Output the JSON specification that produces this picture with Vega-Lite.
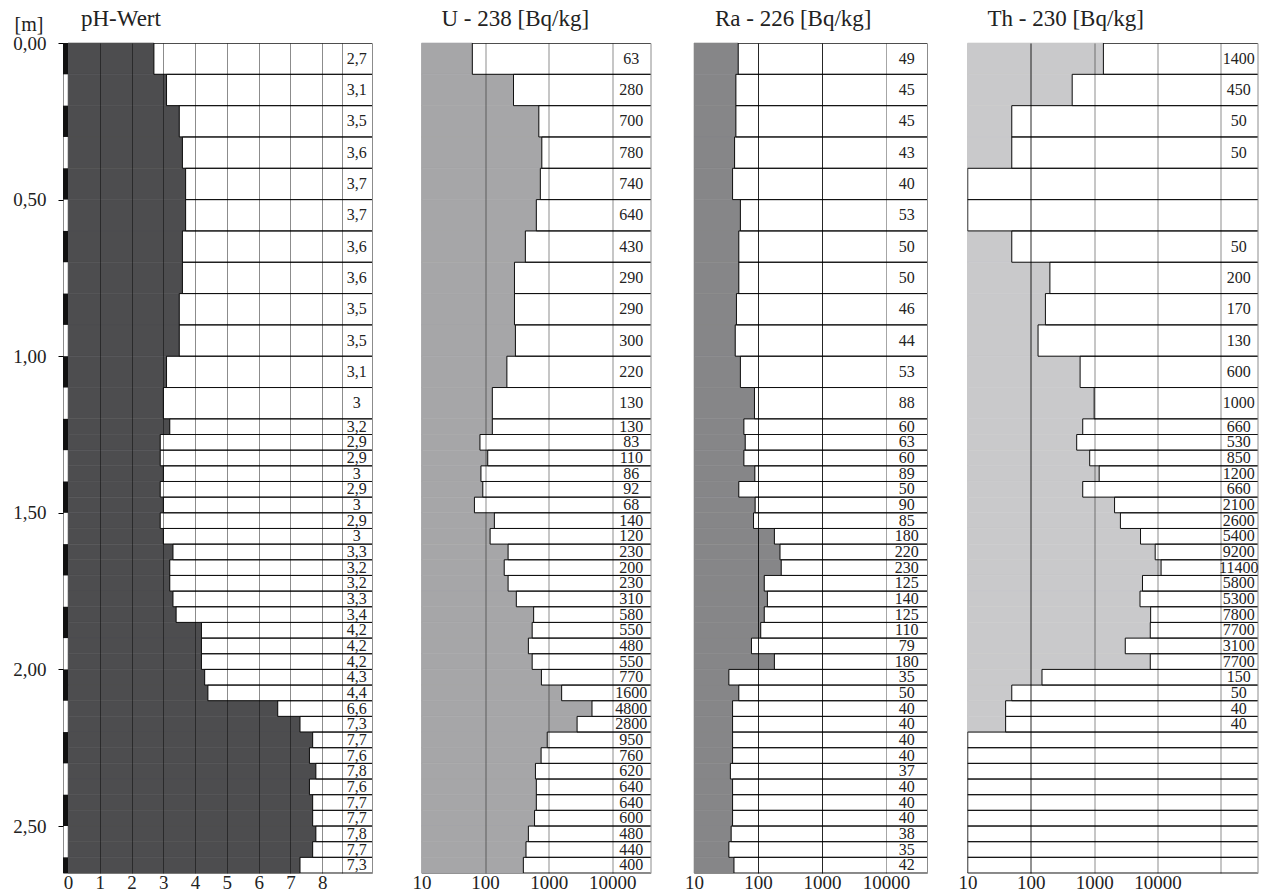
{
  "$schema": "https://vega.github.io/schema/vega-lite/v6.json",
  "background": "white",
  "padding": {"left": 12, "top": 7, "right": 0, "bottom": 0},
  "config": {
    "locale": {"number": {"decimal": ",", "thousands": ".", "grouping": [3], "currency": ["", " €"]}},
    "view": {"stroke": "#8c8c8c", "strokeWidth": 1},
    "font": "Liberation Serif",
    "title": {"font": "Liberation Serif", "fontSize": 23, "fontWeight": "normal", "color": "#222222", "anchor": "start", "frame": "group", "baseline": "alphabetic", "offset": 12},
    "axis": {"labelFont": "Liberation Serif", "labelFontSize": 19, "labelColor": "#222222", "titleFont": "Liberation Serif"}
  },
  "datasets": {
    "rows": [
      {"d0": 0.0, "d1": 0.1, "ph": 2.7, "u": 63, "ra": 49, "th": 1400},
      {"d0": 0.1, "d1": 0.2, "ph": 3.1, "u": 280, "ra": 45, "th": 450},
      {"d0": 0.2, "d1": 0.3, "ph": 3.5, "u": 700, "ra": 45, "th": 50},
      {"d0": 0.3, "d1": 0.4, "ph": 3.6, "u": 780, "ra": 43, "th": 50},
      {"d0": 0.4, "d1": 0.5, "ph": 3.7, "u": 740, "ra": 40, "th": null},
      {"d0": 0.5, "d1": 0.6, "ph": 3.7, "u": 640, "ra": 53, "th": null},
      {"d0": 0.6, "d1": 0.7, "ph": 3.6, "u": 430, "ra": 50, "th": 50},
      {"d0": 0.7, "d1": 0.8, "ph": 3.6, "u": 290, "ra": 50, "th": 200},
      {"d0": 0.8, "d1": 0.9, "ph": 3.5, "u": 290, "ra": 46, "th": 170},
      {"d0": 0.9, "d1": 1.0, "ph": 3.5, "u": 300, "ra": 44, "th": 130},
      {"d0": 1.0, "d1": 1.1, "ph": 3.1, "u": 220, "ra": 53, "th": 600},
      {"d0": 1.1, "d1": 1.2, "ph": 3.0, "u": 130, "ra": 88, "th": 1000},
      {"d0": 1.2, "d1": 1.25, "ph": 3.2, "u": 130, "ra": 60, "th": 660},
      {"d0": 1.25, "d1": 1.3, "ph": 2.9, "u": 83, "ra": 63, "th": 530},
      {"d0": 1.3, "d1": 1.35, "ph": 2.9, "u": 110, "ra": 60, "th": 850},
      {"d0": 1.35, "d1": 1.4, "ph": 3.0, "u": 86, "ra": 89, "th": 1200},
      {"d0": 1.4, "d1": 1.45, "ph": 2.9, "u": 92, "ra": 50, "th": 660},
      {"d0": 1.45, "d1": 1.5, "ph": 3.0, "u": 68, "ra": 90, "th": 2100},
      {"d0": 1.5, "d1": 1.55, "ph": 2.9, "u": 140, "ra": 85, "th": 2600},
      {"d0": 1.55, "d1": 1.6, "ph": 3.0, "u": 120, "ra": 180, "th": 5400},
      {"d0": 1.6, "d1": 1.65, "ph": 3.3, "u": 230, "ra": 220, "th": 9200},
      {"d0": 1.65, "d1": 1.7, "ph": 3.2, "u": 200, "ra": 230, "th": 11400},
      {"d0": 1.7, "d1": 1.75, "ph": 3.2, "u": 230, "ra": 125, "th": 5800},
      {"d0": 1.75, "d1": 1.8, "ph": 3.3, "u": 310, "ra": 140, "th": 5300},
      {"d0": 1.8, "d1": 1.85, "ph": 3.4, "u": 580, "ra": 125, "th": 7800},
      {"d0": 1.85, "d1": 1.9, "ph": 4.2, "u": 550, "ra": 110, "th": 7700},
      {"d0": 1.9, "d1": 1.95, "ph": 4.2, "u": 480, "ra": 79, "th": 3100},
      {"d0": 1.95, "d1": 2.0, "ph": 4.2, "u": 550, "ra": 180, "th": 7700},
      {"d0": 2.0, "d1": 2.05, "ph": 4.3, "u": 770, "ra": 35, "th": 150},
      {"d0": 2.05, "d1": 2.1, "ph": 4.4, "u": 1600, "ra": 50, "th": 50},
      {"d0": 2.1, "d1": 2.15, "ph": 6.6, "u": 4800, "ra": 40, "th": 40},
      {"d0": 2.15, "d1": 2.2, "ph": 7.3, "u": 2800, "ra": 40, "th": 40},
      {"d0": 2.2, "d1": 2.25, "ph": 7.7, "u": 950, "ra": 40, "th": null},
      {"d0": 2.25, "d1": 2.3, "ph": 7.6, "u": 760, "ra": 40, "th": null},
      {"d0": 2.3, "d1": 2.35, "ph": 7.8, "u": 620, "ra": 37, "th": null},
      {"d0": 2.35, "d1": 2.4, "ph": 7.6, "u": 640, "ra": 40, "th": null},
      {"d0": 2.4, "d1": 2.45, "ph": 7.7, "u": 640, "ra": 40, "th": null},
      {"d0": 2.45, "d1": 2.5, "ph": 7.7, "u": 600, "ra": 40, "th": null},
      {"d0": 2.5, "d1": 2.55, "ph": 7.8, "u": 480, "ra": 38, "th": null},
      {"d0": 2.55, "d1": 2.6, "ph": 7.7, "u": 440, "ra": 35, "th": null},
      {"d0": 2.6, "d1": 2.65, "ph": 7.3, "u": 400, "ra": 42, "th": null}
    ],
    "strip": [
      {"d0": 0.0, "d1": 0.1}, {"d0": 0.2, "d1": 0.3}, {"d0": 0.4, "d1": 0.5},
      {"d0": 0.6, "d1": 0.7}, {"d0": 0.8, "d1": 0.9}, {"d0": 1.0, "d1": 1.1},
      {"d0": 1.2, "d1": 1.3}, {"d0": 1.4, "d1": 1.5}, {"d0": 1.6, "d1": 1.7},
      {"d0": 1.8, "d1": 1.9}, {"d0": 2.0, "d1": 2.1}, {"d0": 2.2, "d1": 2.3},
      {"d0": 2.4, "d1": 2.5}, {"d0": 2.6, "d1": 2.65}
    ]
  },
  "hconcat": [
    {
      "hconcat": [
        {
          "hconcat": [
            {
              "width": 309, "height": 830,
              "title": {"text": "pH-Wert", "dx": 18, "offset": -17},
              "encoding": {
                "x": {"type": "quantitative", "title": null,
                  "scale": {"domain": [-0.16, 9.57], "nice": false, "zero": false},
                  "axis": {"values": [0, 1, 2, 3, 4, 5, 6, 7, 8, 8.62], "labelExpr": "datum.value > 8.5 ? '' : datum.label",
                    "grid": true, "zindex": 1, "domain": false, "ticks": false, "labelPadding": 0, "labelFlush": false, "labelOverlap": false,
                    "gridColor": "#000000", "gridOpacity": {"condition": {"test": "datum.value == 0", "value": 0}, "value": 0.45}}},
                "y": {"type": "quantitative", "title": "[m]",
                  "scale": {"domain": [0, 2.65], "reverse": true, "nice": false, "zero": false},
                  "axis": {"values": [0, 0.5, 1, 1.5, 2, 2.5], "format": ".2f", "grid": false, "domain": false,
                    "ticks": true, "tickSize": 5, "tickColor": "#000000", "labelPadding": 12,
                    "titleAngle": 0, "titleAlign": "left", "titleBaseline": "alphabetic", "titleX": -49, "titleY": -13,
                    "titleFontSize": 20, "titleFontWeight": "normal", "titleColor": "#222222"}}
              },
              "layer": [
                {
                  "data": {"name": "rows"},
                  "mark": {"type": "rect", "color": "#4d4d4f", "stroke": "#4d4d4f", "strokeWidth": 0.6},
                  "encoding": {
                    "x": {"field": "ph"},
                    "x2": {"datum": 0},
                    "y": {"field": "d0"},
                    "y2": {"field": "d1"}
                  }
                },
                {
                  "data": {"name": "strip"},
                  "mark": {"type": "rect", "color": "#111111"},
                  "encoding": {
                    "x": {"datum": -0.16},
                    "x2": {"datum": 0},
                    "y": {"field": "d0"},
                    "y2": {"field": "d1"}
                  }
                },
                {
                  "data": {"name": "rows"},
                  "mark": {"type": "rect", "filled": false, "color": "#111111", "strokeWidth": 1, "clip": true},
                  "encoding": {
                    "x": {"field": "ph"},
                    "x2": {"datum": 10},
                    "y": {"field": "d0"},
                    "y2": {"field": "d1"}
                  }
                },
                {
                  "data": {"name": "rows"},
                  "transform": [{"calculate": "(datum.d0 + datum.d1) / 2", "as": "mid"}],
                  "mark": {"type": "text", "font": "Liberation Serif", "fontSize": 16, "color": "#222222", "align": "center", "baseline": "middle"},
                  "encoding": {
                    "x": {"datum": 9.09},
                    "y": {"field": "mid"},
                    "text": {"field": "ph", "type": "quantitative", "format": ".1~f"}
                  }
                }
              ]
            },
            {
              "width": 229, "height": 830,
              "title": {"text": "U - 238 [Bq/kg]", "dx": 20},
              "data": {"name": "rows"},
              "encoding": {
                "x": {"type": "quantitative", "title": null,
                  "scale": {"type": "log", "domain": [10, 40000], "nice": false},
                  "axis": {"values": [10, 100, 1000, 10000], "format": "d", "grid": true, "zindex": 1, "domain": false, "ticks": false,
                    "labelPadding": 0, "labelFlush": false, "labelOverlap": false,
                    "gridColor": "#000000", "gridOpacity": {"condition": {"test": "datum.value == 10", "value": 0}, "value": 0.45}}},
                "y": {"type": "quantitative", "scale": {"domain": [0, 2.65], "reverse": true, "nice": false, "zero": false}, "axis": null}
              },
              "layer": [
                {
                  "mark": {"type": "rect", "color": "#a6a6a8", "stroke": "#a6a6a8", "strokeWidth": 0.6},
                  "encoding": {"x": {"field": "u"}, "x2": {"datum": 10}, "y": {"field": "d0"}, "y2": {"field": "d1"}}
                },
                {
                  "mark": {"type": "rect", "filled": false, "color": "#111111", "strokeWidth": 1, "clip": true},
                  "encoding": {"x": {"field": "u"}, "x2": {"datum": 80000}, "y": {"field": "d0"}, "y2": {"field": "d1"}}
                },
                {
                  "transform": [{"calculate": "(datum.d0 + datum.d1) / 2", "as": "mid"}],
                  "mark": {"type": "text", "font": "Liberation Serif", "fontSize": 16, "color": "#222222", "align": "center", "baseline": "middle"},
                  "encoding": {"x": {"datum": 20000}, "y": {"field": "mid"}, "text": {"field": "u", "type": "quantitative", "format": "d"}}
                }
              ]
            }
          ],
          "spacing": 38.5,
          "resolve": {"scale": {"x": "independent", "y": "independent"}}
        },
        {
          "width": 233, "height": 830,
          "title": {"text": "Ra - 226 [Bq/kg]", "dx": 21},
          "data": {"name": "rows"},
          "encoding": {
            "x": {"type": "quantitative", "title": null,
              "scale": {"type": "log", "domain": [10, 43500], "nice": false},
              "axis": {"values": [10, 100, 1000, 10000], "format": "d", "grid": true, "zindex": 1, "domain": false, "ticks": false,
                "labelPadding": 0, "labelFlush": false, "labelOverlap": false,
                "gridColor": "#000000", "gridOpacity": {"condition": [{"test": "datum.value == 10", "value": 0}, {"test": "datum.value == 10000", "value": 0.35}], "value": 0.85}}},
            "y": {"type": "quantitative", "scale": {"domain": [0, 2.65], "reverse": true, "nice": false, "zero": false}, "axis": null}
          },
          "layer": [
            {
              "mark": {"type": "rect", "color": "#868688", "stroke": "#868688", "strokeWidth": 0.6},
              "encoding": {"x": {"field": "ra"}, "x2": {"datum": 10}, "y": {"field": "d0"}, "y2": {"field": "d1"}}
            },
            {
              "mark": {"type": "rect", "filled": false, "color": "#111111", "strokeWidth": 1, "clip": true},
              "encoding": {"x": {"field": "ra"}, "x2": {"datum": 90000}, "y": {"field": "d0"}, "y2": {"field": "d1"}}
            },
            {
              "transform": [{"calculate": "(datum.d0 + datum.d1) / 2", "as": "mid"}],
              "mark": {"type": "text", "font": "Liberation Serif", "fontSize": 16, "color": "#222222", "align": "center", "baseline": "middle"},
              "encoding": {"x": {"datum": 21000}, "y": {"field": "mid"}, "text": {"field": "ra", "type": "quantitative", "format": "d"}}
            }
          ]
        }
      ],
      "spacing": 33,
      "resolve": {"scale": {"x": "independent", "y": "independent"}}
    },
    {
      "width": 290, "height": 830,
      "title": {"text": "Th - 230 [Bq/kg]", "dx": 20},
      "data": {"name": "rows"},
      "encoding": {
        "x": {"type": "quantitative", "title": null,
          "scale": {"type": "log", "domain": [10, 380000], "nice": false},
          "axis": {"values": [10, 100, 1000, 10000, 100000], "format": "d", "labelExpr": "datum.value > 50000 ? '' : datum.label",
            "grid": true, "zindex": 1, "domain": false, "ticks": false,
            "labelPadding": 0, "labelFlush": false, "labelOverlap": false,
            "gridColor": "#000000", "gridOpacity": {"condition": [{"test": "datum.value == 10", "value": 0}, {"test": "datum.value == 100", "value": 0.85}], "value": 0.45}}},
        "y": {"type": "quantitative", "scale": {"domain": [0, 2.65], "reverse": true, "nice": false, "zero": false}, "axis": null}
      },
      "layer": [
        {
          "transform": [{"filter": "datum.th != null"}],
          "mark": {"type": "rect", "color": "#c9c9cb", "stroke": "#c9c9cb", "strokeWidth": 0.6},
          "encoding": {"x": {"field": "th"}, "x2": {"datum": 10}, "y": {"field": "d0"}, "y2": {"field": "d1"}}
        },
        {
          "transform": [{"filter": "datum.th != null"}],
          "mark": {"type": "rect", "filled": false, "color": "#111111", "strokeWidth": 1, "clip": true},
          "encoding": {"x": {"field": "th"}, "x2": {"datum": 800000}, "y": {"field": "d0"}, "y2": {"field": "d1"}}
        },
        {
          "transform": [{"filter": "datum.th == null"}],
          "mark": {"type": "rect", "filled": false, "color": "#111111", "strokeWidth": 1, "clip": true},
          "encoding": {"x": {"datum": 10}, "x2": {"datum": 800000}, "y": {"field": "d0"}, "y2": {"field": "d1"}}
        },
        {
          "transform": [{"filter": "datum.th != null"}, {"calculate": "(datum.d0 + datum.d1) / 2", "as": "mid"}],
          "mark": {"type": "text", "font": "Liberation Serif", "fontSize": 16, "color": "#222222", "align": "center", "baseline": "middle"},
          "encoding": {"x": {"datum": 192000}, "y": {"field": "mid"}, "text": {"field": "th", "type": "quantitative", "format": "d"}}
        }
      ]
    }
  ],
  "spacing": 29.5,
  "resolve": {"scale": {"x": "independent", "y": "independent"}}
}
